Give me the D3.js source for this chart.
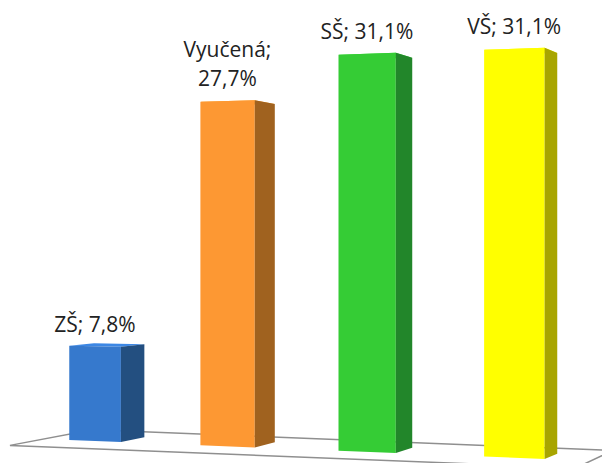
<!DOCTYPE html>
<html>
<head>
<meta charset="utf-8">
<script src="https://cdn.jsdelivr.net/npm/d3@7"></script>
<style>
  body { margin: 0; background: #fff; }
  svg { display: block; }
  .rotulo { font-family: 'Open Sans', sans-serif; font-size: 21px; fill: #222; }
</style>
</head>
<body>
<div id="grafico"></div>
<script>
// Dados
const categorias = ['ZŠ', 'Vyučená', 'SŠ', 'VŠ'];
const valores = [7.8, 27.7, 31.1, 31.1];
const rotulosValor = ['7,8%', '27,7%', '31,1%', '31,1%'];

// Cores (frente / lado)
const coresFrente = ['#3679cd', '#fd9833', '#35cc35', '#ffff00'];
const coresLado = ['#234f80', '#a0621f', '#22862a', '#a8a500'];

const largura = 602;
const altura = 463;

const dados = categorias.map((c, i) => ({ cat: c, valor: valores[i], rotulo: rotulosValor[i] }));

// Perspectiva
const fuga = { x: 1040, y: 250 };   // ponto de fuga da profundidade
const k = 0.1;                      // encurtamento ao longo do eixo
const profBarra = 0.0255;
const profFrente = -0.034;
const profFundo = 0.049;

const svg = d3.select('#grafico')
  .append('svg')
  .attr('width', largura)
  .attr('height', altura);

// Escalas
const x = d3.scaleBand().domain(categorias).range([0, 1]).paddingInner(0.6).paddingOuter(0.3);
const eixo = d3.scaleLinear().domain([0, 1]).range([31.2, 534.9]);
const base = d3.scaleLinear().domain([0, largura]).range([437.2, 461.3]);
const y = d3.scaleLinear().domain([0, 1]).range([0, 12]);

function ponto(t, v, prof) {
  const p = 1 / (1 - k * t);
  const px = eixo(t * p);
  const py = base(px) - y(v) * p;
  return [px + (fuga.x - px) * prof, py + (fuga.y - py) * prof];
}

const poly = (pts) => 'M' + pts.map((p) => p.join(',')).join('L') + 'Z';

// Piso
svg.append('path')
  .attr('d', poly([
    ponto(0.025, 0, profFrente),
    ponto(1, 0, profFrente),
    ponto(1, 0, profFundo),
    ponto(0.025, 0, profFundo)
  ]))
  .attr('fill', '#fff')
  .attr('stroke', '#8f8f8f')
  .attr('stroke-width', 1.5);

// Barras
const barras = svg.selectAll('.barra')
  .data(dados)
  .enter()
  .append('g')
  .attr('class', 'barra');

barras.append('path')
  .attr('d', (d) => {
    const t0 = x(d.cat), t1 = t0 + x.bandwidth();
    return poly([ponto(t0, d.valor, 0), ponto(t1, d.valor, 0), ponto(t1, d.valor, profBarra), ponto(t0, d.valor, profBarra)]);
  })
  .attr('fill', (d, i) => d3.color(coresFrente[i]).brighter(0.3));

barras.append('path')
  .attr('d', (d) => {
    const t0 = x(d.cat), t1 = t0 + x.bandwidth();
    return poly([ponto(t0, 0, 0), ponto(t1, 0, 0), ponto(t1, d.valor, 0), ponto(t0, d.valor, 0)]);
  })
  .attr('fill', (d, i) => coresFrente[i]);

barras.append('path')
  .attr('d', (d) => {
    const t1 = x(d.cat) + x.bandwidth();
    return poly([ponto(t1, 0, 0), ponto(t1, 0, profBarra), ponto(t1, d.valor, profBarra), ponto(t1, d.valor, 0)]);
  })
  .attr('fill', (d, i) => coresLado[i]);

// Rótulos
barras.each(function (d) {
  const t0 = x(d.cat), t1 = t0 + x.bandwidth();
  const cx = ponto((t0 + t1) / 2, d.valor, 0)[0];
  const topo = Math.min(ponto(t0, d.valor, 0)[1], ponto(t1, d.valor, 0)[1]);
  const txt = d3.select(this).append('text')
    .attr('class', 'rotulo')
    .attr('text-anchor', 'middle')
    .attr('x', cx)
    .attr('y', topo - 14)
    .text(`${d.cat}; ${d.rotulo}`);
  if (txt.node().getComputedTextLength() > 120) {
    txt.text(null);
    txt.append('tspan').attr('x', cx).attr('dy', -29).text(`${d.cat};`);
    txt.append('tspan').attr('x', cx).attr('dy', 29).text(d.rotulo);
  }
});
</script>
</body>
</html>
